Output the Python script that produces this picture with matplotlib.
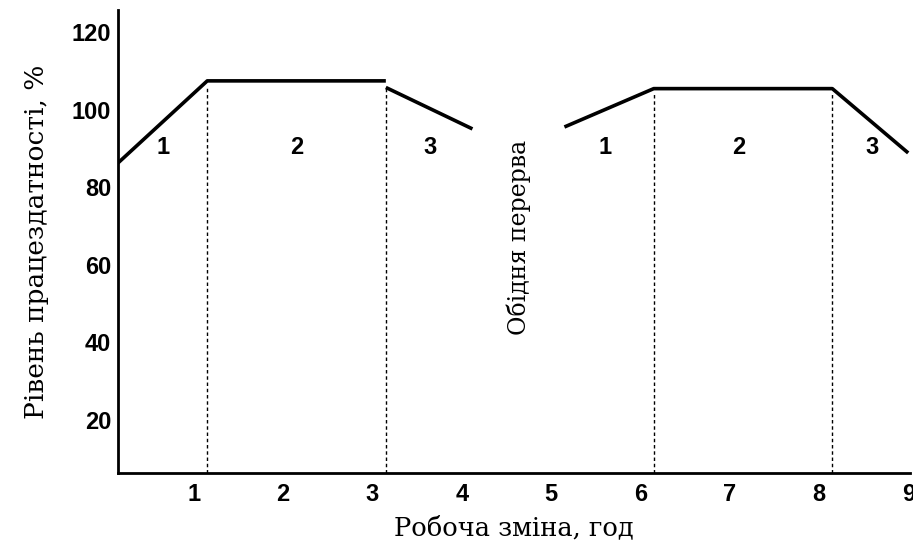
import matplotlib
matplotlib.use("Agg")
import matplotlib.pyplot as plt

# Крива працездатності до і після обідньої перерви
x_first = [0.15, 1.15, 3.15]
y_first = [86.3, 107.5, 107.5]
x_fall1 = [3.15, 4.12]
y_fall1 = [105.8, 95.1]
x_second = [5.15, 6.15, 8.15, 9.0]
y_second = [95.6, 105.5, 105.5, 88.9]

phase_x = [1.15, 3.15, 6.15, 8.15]
label_x = [0.65, 2.15, 3.64, 5.61, 7.1, 8.6]
label_txt = ["1", "2", "3", "1", "2", "3"]
label_y = 90.3

xticks = [1, 2, 3, 4, 5, 6, 7, 8, 9]
yticks = [20, 40, 60, 80, 100, 120]

SERIF = "DejaVu Serif"
SANS = "Liberation Sans"

fig = plt.figure(figsize=(9.13, 5.48), dpi=100)
ax = fig.add_axes([0.1292, 0.1369, 0.8675, 0.8449])

ax.plot(x_first, y_first, color="black", lw=2.6, solid_capstyle="butt")
ax.plot(x_fall1, y_fall1, color="black", lw=2.6, solid_capstyle="butt")
ax.plot(x_second, y_second, color="black", lw=2.6, solid_capstyle="butt")

for i, px in enumerate(phase_x):
    top = y_first[1] if i < 2 else y_second[1]
    ax.plot([px, px], [6.3, top - 1.5], color="black", lw=1.0, ls=(0, (2.5, 2)))

for lx, lt in zip(label_x, label_txt):
    ax.text(lx, label_y, lt, ha="center", va="center", fontsize=17,
            fontfamily=SANS, fontweight="bold")

ax.text(4.64, 67.2, "Обідня перерва", rotation=90, ha="center", va="center",
        fontsize=17, fontfamily=SERIF)

ax.set_xlim(0.15, 9.02)
ax.set_ylim(6.3, 125.8)
ax.set_xticks(xticks)
ax.set_yticks(yticks)
ax.tick_params(axis="x", length=0, pad=7)
ax.tick_params(axis="y", length=0, pad=5)
for lab in ax.get_xticklabels() + ax.get_yticklabels():
    lab.set_fontfamily(SANS)
    lab.set_fontweight("bold")
    lab.set_fontsize(17)

ax.spines["top"].set_visible(False)
ax.spines["right"].set_visible(False)
ax.spines["left"].set_linewidth(2)
ax.spines["bottom"].set_linewidth(2)

ax.set_xlabel("Робоча зміна, год", fontsize=18.5, fontfamily=SERIF, labelpad=7)
ax.set_ylabel("Рівень працездатності, %", fontsize=19, fontfamily=SERIF, labelpad=16)

fig.savefig("out.png", dpi=100, facecolor="white")
